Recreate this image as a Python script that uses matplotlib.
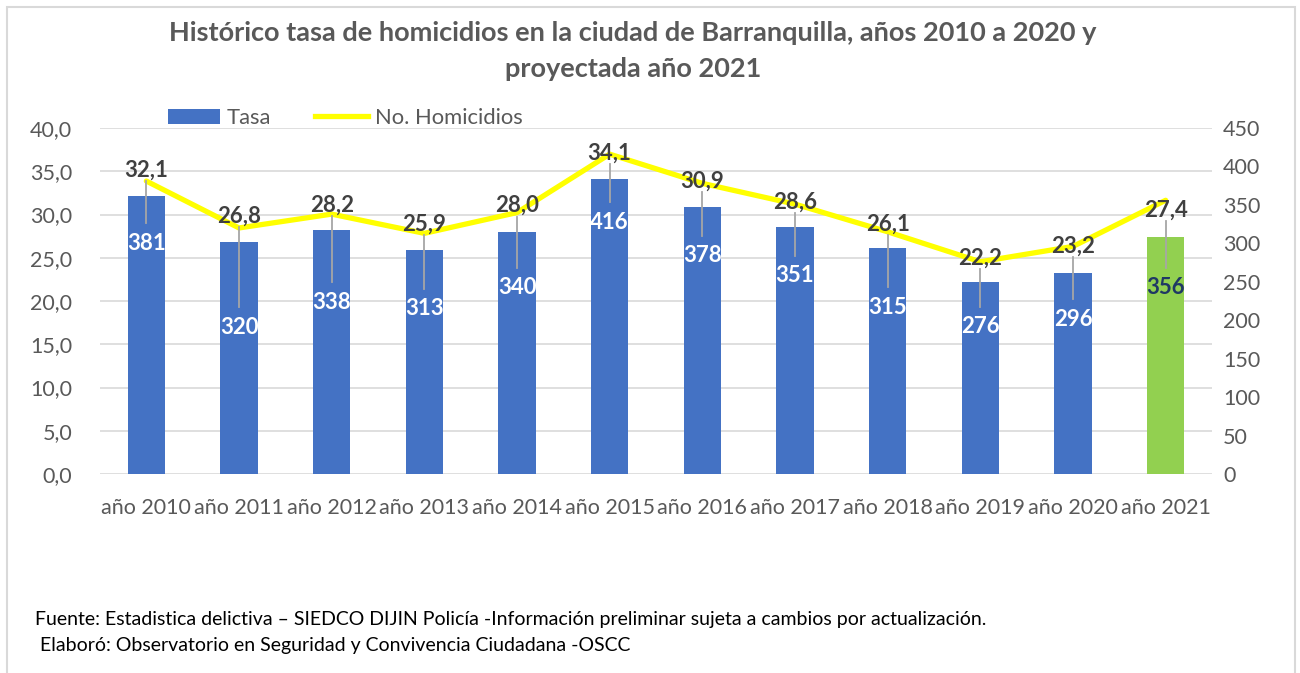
import matplotlib.pyplot as plt
from matplotlib.lines import Line2D
from matplotlib.patches import Patch, Rectangle
from matplotlib.transforms import IdentityTransform

plt.rcParams['font.family'] = ['Lato', 'DejaVu Sans']

years = ['año 2010', 'año 2011', 'año 2012', 'año 2013', 'año 2014', 'año 2015',
         'año 2016', 'año 2017', 'año 2018', 'año 2019', 'año 2020', 'año 2021']
tasa = [32.1, 26.8, 28.2, 25.9, 28.0, 34.1, 30.9, 28.6, 26.1, 22.2, 23.2, 27.4]
homicidios = [381, 320, 338, 313, 340, 416, 378, 351, 315, 276, 296, 356]

# label placement (pixels) as in the original Excel chart
tasa_dy = [-11, -12, -9, -9, -7, -1, -2, -2, -8, -4, 0, 10]
count_dy = [47, 85, 72, 59, 56, 43, 49, 49, 59, 45, 46, 51]

gray = '#595959'
blue = '#4472C4'
green = '#92D050'

fig = plt.figure(figsize=(13, 6.73), dpi=100)
ax = fig.add_axes([100 / 1300, 199 / 673, 1112 / 1300, 346 / 673])
ax2 = ax.twinx()

x = list(range(len(years)))
colors = [blue] * (len(years) - 1) + [green]
ax.bar(x, tasa, width=0.4, color=colors, zorder=2)
ax.set_ylim(0, 40)
ax.set_yticks([i * 5 for i in range(9)])
ax.set_yticklabels([f'{i * 5:.1f}'.replace('.', ',') for i in range(9)])
ax.set_xlim(-0.5, 11.5)
ax.set_xticks(x)
ax.set_xticklabels(years)
ax.grid(axis='y', color='#d9d9d9', linewidth=1.2, zorder=0)
ax.set_axisbelow(True)

ax2.plot(x, homicidios, color='#FFFF00', linewidth=3.8, solid_capstyle='round', zorder=3)
ax2.set_ylim(0, 450)
ax2.set_yticks(range(0, 451, 50))

for a in (ax, ax2):
    for s in a.spines.values():
        s.set_visible(False)
    a.tick_params(length=0, labelsize=15.5, colors=gray)
ax.tick_params(axis='x', pad=17)
ax.tick_params(axis='y', pad=20)
ax2.tick_params(axis='y', pad=8)

for i in x:
    ax2.annotate(f'{tasa[i]:.1f}'.replace('.', ','), xy=(i, homicidios[i]),
                 xytext=(0, -tasa_dy[i]), textcoords='offset pixels',
                 ha='center', va='center', fontsize=16, fontweight='bold',
                 color='#404040', zorder=5)
    tc = 'white' if i < len(years) - 1 else '#1F3864'
    ax.annotate(str(homicidios[i]), xy=(i, tasa[i]),
                xytext=(0, -count_dy[i]), textcoords='offset pixels',
                ha='center', va='center', fontsize=16, fontweight='bold',
                color=tc, zorder=5)
    p1 = ax2.transData.transform((i, homicidios[i]))
    p2 = ax.transData.transform((i, tasa[i]))
    y1 = p1[1] - tasa_dy[i] - 11
    y2 = p2[1] - count_dy[i] + 20
    fig.add_artist(Line2D([p1[0], p2[0]], [y1, y2], color='#a6a6a6',
                          linewidth=1.3, transform=IdentityTransform(), zorder=4))

handles = [Patch(facecolor=blue), Line2D([0], [0], color='#FFFF00', linewidth=3.8)]
leg = fig.legend(handles, ['Tasa', 'No. Homicidios'], loc='center left',
                 bbox_to_anchor=(148 / 1300, 1 - 118 / 673), ncol=2, frameon=False,
                 fontsize=15.8, handlelength=2.4, handleheight=0.7, columnspacing=2.0,
                 handletextpad=0.3)
for t in leg.get_texts():
    t.set_color(gray)

fig.text(633 / 1300, 1 - 33 / 673,
         'Histórico tasa de homicidios en la ciudad de Barranquilla, años 2010 a 2020 y',
         ha='center', va='center', fontsize=19.5, fontweight='bold', color=gray)
fig.text(633 / 1300, 1 - 69 / 673, 'proyectada año 2021',
         ha='center', va='center', fontsize=19.5, fontweight='bold', color=gray)

fig.text(35 / 1300, 1 - 620 / 673,
         'Fuente: Estadistica delictiva – SIEDCO DIJIN Policía -Información preliminar sujeta a cambios por actualización.',
         ha='left', va='center', fontsize=14, color='black')
fig.text(35 / 1300, 1 - 645 / 673,
         ' Elaboró: Observatorio en Seguridad y Convivencia Ciudadana -OSCC',
         ha='left', va='center', fontsize=14, color='black')

fig.add_artist(Rectangle((7 / 1300, -0.01), 1288 / 1300, 1 - 7 / 673 + 0.01,
                         transform=fig.transFigure, fill=False,
                         edgecolor='#d9d9d9', linewidth=1.5))

fig.savefig('out.png', dpi=100)
